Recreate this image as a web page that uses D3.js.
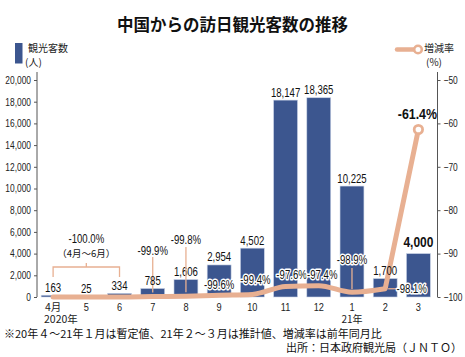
<!DOCTYPE html>
<html><head><meta charset="utf-8">
<script src="https://cdn.jsdelivr.net/npm/d3@7"></script>
<style>
html,body{margin:0;padding:0;background:#fff;}
svg{display:block;}
.num{font-family:"Liberation Sans","Noto Sans",sans-serif;}
.jp{font-family:"Noto Sans CJK JP","Noto Sans",sans-serif;}
</style>
</head><body>
<svg id="c" width="465" height="357"></svg>
<script>
// ---- data ----
const months = ["4月","5","6","7","8","9","10","11","12","1","2","3"];
const visitors = [163, 25, 334, 785, 1606, 2954, 4502, 18147, 18365, 10225, 1700, 4000];
const changeRate = [-100.0, -100.0, -100.0, -99.9, -99.8, -99.6, -99.4, -97.6, -97.4, -98.9, -98.1, -61.4];
const leftTicks = [0, 2000, 4000, 6000, 8000, 10000, 12000, 14000, 16000, 18000, 20000];
const rightTicks = [-100, -90, -80, -70, -60, -50];
const pctLabels = ["-100.0%", "", "", "-99.9%", "-99.8%", "-99.6%", "-99.4%", "-97.6%", "-97.4%", "-98.9%", "-98.1%", "-61.4%"];

const BLUE = "#3c568f", PEACH = "#e8b092", AX = "#555";
const SX = 0.8; // horizontal condensing of numeric text
const svg = d3.select("#c");

const x = d3.scaleBand().domain(d3.range(months.length)).range([36.5, 435]).paddingInner(0.28).paddingOuter(0.14);
const yL = d3.scaleLinear().domain([0, 20000]).range([297, 80]);
const yR = d3.scaleLinear().domain([-100, -50]).range([297, 80]);
const cx = i => x(i) + x.bandwidth() / 2;

function numText(g, px, py, size, txt, opts = {}) {
  const t = g.append("text").attr("class","num")
    .attr("transform", `translate(${px},${py}) scale(${SX},1)`)
    .attr("text-anchor", opts.anchor || "middle")
    .attr("font-size", size).attr("font-weight", opts.bold ? 700 : 400)
    .attr("fill", "#111").text(txt);
  if (opts.halo) t.attr("stroke","#fff").attr("stroke-width", 3).attr("paint-order","stroke").attr("stroke-linejoin","round");
  return t;
}

// title
svg.append("text").attr("class","jp").attr("x", 232.5).attr("y", 31).attr("text-anchor","middle")
  .attr("font-size", 16.5).attr("font-weight", 700).attr("fill","#111").text("中国からの訪日観光客数の推移");

// legends
svg.append("rect").attr("x", 15).attr("y", 43).attr("width", 7.5).attr("height", 20.5).attr("fill", BLUE);
svg.append("text").attr("class","jp").attr("x", 28).attr("y", 52).attr("font-size", 10).attr("fill","#222").text("観光客数");
svg.append("text").attr("class","jp").attr("x", 25).attr("y", 65.5).attr("font-size", 10).attr("fill","#222").text("(人)");
svg.append("line").attr("x1", 397).attr("x2", 414).attr("y1", 49.5).attr("y2", 49.5)
  .attr("stroke", PEACH).attr("stroke-width", 4.5).attr("stroke-linecap","round");
svg.append("circle").attr("cx", 418).attr("cy", 49.5).attr("r", 3.8).attr("fill","#fff").attr("stroke", PEACH).attr("stroke-width", 2.6);
svg.append("text").attr("class","jp").attr("x", 424).attr("y", 52).attr("font-size", 10).attr("fill","#222").text("増減率");
svg.append("text").attr("class","jp").attr("x", 426).attr("y", 65.5).attr("font-size", 10).attr("fill","#222").text("(%)");

// axes
const axL = d3.axisLeft(yL).tickValues(leftTicks).tickSize(3).tickPadding(3).tickFormat(d3.format(","));
const gL = svg.append("g").attr("transform","translate(37,0)").call(axL);
gL.select(".domain").attr("d", "M0,72V297").attr("stroke", AX);
gL.selectAll(".tick line").attr("stroke", AX);
gL.selectAll(".tick text").attr("class","num").attr("font-size", 10.5).attr("fill","#222")
  .attr("x", -6 / SX).attr("transform", `scale(${SX},1)`);

const axR = d3.axisRight(yR).tickValues(rightTicks).tickSize(3).tickPadding(3);
const gR = svg.append("g").attr("transform","translate(437.5,0)").call(axR);
gR.select(".domain").attr("d", "M0,72V297").attr("stroke", AX);
gR.selectAll(".tick line").attr("stroke", AX);
gR.selectAll(".tick text").attr("class","num").attr("font-size", 10.5).attr("fill","#222")
  .attr("x", 6 / SX).attr("transform", `scale(${SX},1)`);

// bars
svg.append("g").selectAll("rect").data(visitors).join("rect")
  .attr("x", (d,i) => x(i)).attr("width", x.bandwidth())
  .attr("y", d => yL(d)).attr("height", d => yL(0) - yL(d))
  .attr("fill", BLUE).attr("stroke", "#c9d3e6").attr("stroke-width", 0.6);

// x tick labels
const gX = svg.append("g");
months.forEach((m, i) => {
  if (i === 0) gX.append("text").attr("class","jp").attr("x", cx(i)).attr("y", 310.5).attr("text-anchor","middle")
      .attr("font-size", 10.5).attr("fill","#222").text(m);
  else numText(gX, cx(i), 311, 11.5, m).attr("fill","#222");
});
svg.append("text").attr("class","jp").attr("x", 44).attr("y", 322.5).attr("font-size", 10.5).attr("fill","#222").text("2020年");
svg.append("text").attr("class","jp").attr("x", cx(9)).attr("y", 322.5).attr("text-anchor","middle").attr("font-size", 10).attr("fill","#222").text("21年");

// leader lines & bracket
const lead = svg.append("g").attr("stroke", PEACH).attr("stroke-width", 1.3).attr("fill","none");
lead.append("path").attr("d", `M${cx(0)},277V267H${cx(2)}V277M${(cx(0)+cx(2))/2},267V263`);
lead.append("line").attr("x1", cx(3)).attr("x2", cx(3)).attr("y1", 257).attr("y2", yR(changeRate[3]) - 4);
lead.append("line").attr("x1", cx(9)).attr("x2", cx(9)).attr("y1", 268).attr("y2", yR(changeRate[9]) - 3);
lead.append("line").attr("x1", cx(10) + 3).attr("x2", cx(10) + 12).attr("y1", yR(changeRate[10])).attr("y2", yR(changeRate[10]));

// change-rate line: smooth through Feb, straight jump to Mar
const smooth = d3.line().x((d,i) => cx(i)).y(d => yR(d)).curve(d3.curveMonotoneX);
const last = changeRate.length - 1;
const pathD = smooth(changeRate.slice(0, last)) + `L${cx(last)},${yR(changeRate[last])}`;
svg.append("path").attr("d", pathD).attr("fill","none")
  .attr("stroke", PEACH).attr("stroke-width", 5).attr("stroke-linecap","round").attr("stroke-linejoin","round");
svg.append("circle").attr("cx", cx(last)).attr("cy", yR(changeRate[last])).attr("r", 4.2)
  .attr("fill","#fff").attr("stroke", PEACH).attr("stroke-width", 2.8);

// bar value labels (on top of the line)
const gBL = svg.append("g");
visitors.forEach((d, i) => {
  if (i === 11) numText(gBL, cx(i), yL(d) - 6.5, 15, d3.format(",")(d), {bold:true});
  else numText(gBL, cx(i), Math.min(yL(d) - 3.5, 293), 12, d3.format(",")(d));
});
// leader for Aug runs across its bar label
svg.append("line").attr("x1", cx(4)).attr("x2", cx(4)).attr("y1", 247).attr("y2", yR(changeRate[4]) - 4)
  .attr("stroke", PEACH).attr("stroke-width", 1.3);

// percentage labels (offsets relative to data points)
const pctPos = [
  {i:0, dx:(cx(1)-cx(0)), dy:-54},
  {i:3, dx:0, dy:-41.5},
  {i:4, dx:0, dy:-52},
  {i:5, dx:0, dy:-6.5},
  {i:6, dx:3, dy:-10.5},
  {i:7, dx:6, dy:-7.5},
  {i:8, dx:3.5, dy:-6.7},
  {i:9, dx:0, dy:-28},
  {i:10, dx:26.5, dy:4},
  {i:11, dx:-1, dy:-10.5, size:15.5, bold:true}
];
const pg = svg.append("g");
pctPos.forEach(p => {
  numText(pg, cx(p.i) + p.dx, yR(changeRate[p.i]) + p.dy, p.size || 12, pctLabels[p.i], {bold:p.bold, halo:!p.bold});
});
svg.append("text").attr("class","jp").attr("x", (cx(0)+cx(2))/2).attr("y", 257).attr("text-anchor","middle")
  .attr("font-size", 9.5).attr("fill","#111").text("（4月～6月）");

// footnotes
svg.append("text").attr("class","jp").attr("x", 4).attr("y", 338).attr("font-size", 11).attr("fill","#111")
  .text("※20年４～21年１月は暫定値、21年２～３月は推計値、増減率は前年同月比");
svg.append("text").attr("class","jp").attr("x", 462).attr("y", 352).attr("text-anchor","end").attr("font-size", 11).attr("fill","#111")
  .text("出所：日本政府観光局（ＪＮＴＯ）");
</script>
</body></html>
